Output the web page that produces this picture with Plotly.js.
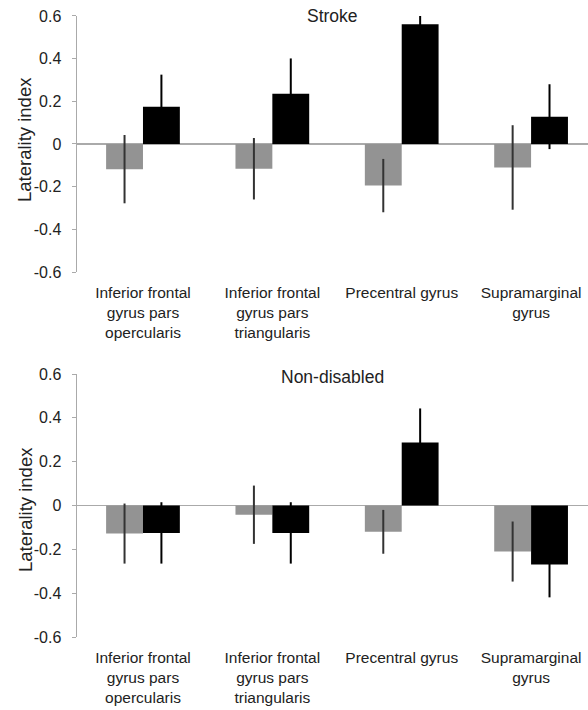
<!DOCTYPE html>
<html>
<head>
<meta charset="utf-8">
<script src="https://cdn.plot.ly/plotly-3.0.1.min.js"></script>
<style>html,body{margin:0;padding:0;background:#fff;}#chart{width:588px;height:710px;}</style>
</head>
<body>
<div id="chart"></div>
<script>
var categories = ["Inferior frontal<br>gyrus pars<br>opercularis", "Inferior frontal<br>gyrus pars<br>triangularis", "Precentral gyrus", "Supramarginal<br>gyrus"];
var strokeGray = [-0.118, -0.116, -0.195, -0.110];
var strokeGrayErr = [0.16, 0.144, 0.125, 0.198];
var strokeBlack = [0.175, 0.236, 0.561, 0.128];
var strokeBlackErr = [0.15, 0.165, 0.15, 0.152];
var ndGray = [-0.128, -0.042, -0.120, -0.210];
var ndGrayErr = [0.137, 0.133, 0.100, 0.137];
var ndBlack = [-0.125, -0.125, 0.288, -0.269];
var ndBlackErr = [0.14, 0.14, 0.155, 0.15];
var yTicks = [-0.6, -0.4, -0.2, 0, 0.2, 0.4, 0.6];
var yTickText = ["-0.6", "-0.4", "-0.2", "0", "0.2", "0.4", "0.6"];

var grayColor = "#939393";
var FONT = "Liberation Sans, Arial, sans-serif";
function bar(vals, errs, color, errCol, xa, ya, name) {
  return {
    type: "bar", x: categories, y: vals, name: name,
    xaxis: xa, yaxis: ya, showlegend: false,
    marker: {color: color, line: {width: 0}},
    error_y: {type: "data", array: errs, visible: true, color: errCol, thickness: 2, width: 0}
  };
}
var data = [
  bar(strokeGray, strokeGrayErr, grayColor, "#333333", "x", "y", "Series A"),
  bar(strokeBlack, strokeBlackErr, "#000000", "#000000", "x", "y", "Series B"),
  bar(ndGray, ndGrayErr, grayColor, "#333333", "x2", "y2", "Series A"),
  bar(ndBlack, ndBlackErr, "#000000", "#000000", "x2", "y2", "Series B")
];
function xax(anchor) {
  return {
    anchor: anchor, domain: [0, 1], range: [-0.51, 3.44], type: "category",
    showline: false, showgrid: false, zeroline: false, ticks: "",
    ticklabelstandoff: 9,
    tickfont: {family: FONT, size: 15.5, color: "#222"}, fixedrange: true
  };
}
function yax(anchor, dom) {
  return {
    anchor: anchor, domain: dom, range: [-0.6, 0.6],
    tickvals: yTicks, ticktext: yTickText,
    showline: true, linecolor: "#aaaaaa", linewidth: 1.5,
    ticks: "outside", ticklen: 4, tickcolor: "#aaaaaa", tickwidth: 1,
    ticklabelstandoff: 7,
    showgrid: false, zeroline: true, zerolinecolor: "#aaaaaa", zerolinewidth: 1.5,
    tickfont: {family: FONT, size: 16, color: "#222"}
  };
}
var annFont = {family: FONT, size: 17.5, color: "#222"};
var yTitleFont = {family: FONT, size: 18.5, color: "#222"};
var layout = {
  width: 588, height: 710,
  margin: {l: 77, r: 0, t: 0, b: 0},
  paper_bgcolor: "#fff", plot_bgcolor: "#fff",
  barmode: "group", bargap: 0.43, bargroupgap: 0,
  xaxis: xax("y"),
  yaxis: yax("x", [0.6169, 0.9775]),
  xaxis2: xax("y2"),
  yaxis2: yax("x2", [0.1028, 0.4732]),
  annotations: [
    {text: "Stroke", xref: "paper", yref: "paper", x: 0.5, y: 1 - 16/710, xanchor: "center", yanchor: "middle", showarrow: false, font: annFont},
    {text: "Non-disabled", xref: "paper", yref: "paper", x: 0.5, y: 1 - 377/710, xanchor: "center", yanchor: "middle", showarrow: false, font: annFont},
    {text: "Laterality index", xref: "paper", yref: "paper", x: (25 - 77) / 511, y: 1 - 140/710, xanchor: "center", yanchor: "middle", textangle: -90, showarrow: false, font: yTitleFont},
    {text: "Laterality index", xref: "paper", yref: "paper", x: (25 - 77) / 511, y: 1 - 510/710, xanchor: "center", yanchor: "middle", textangle: -90, showarrow: false, font: yTitleFont}
  ]
};
Plotly.newPlot("chart", data, layout, {displayModeBar: false, staticPlot: true});
</script>
</body>
</html>
